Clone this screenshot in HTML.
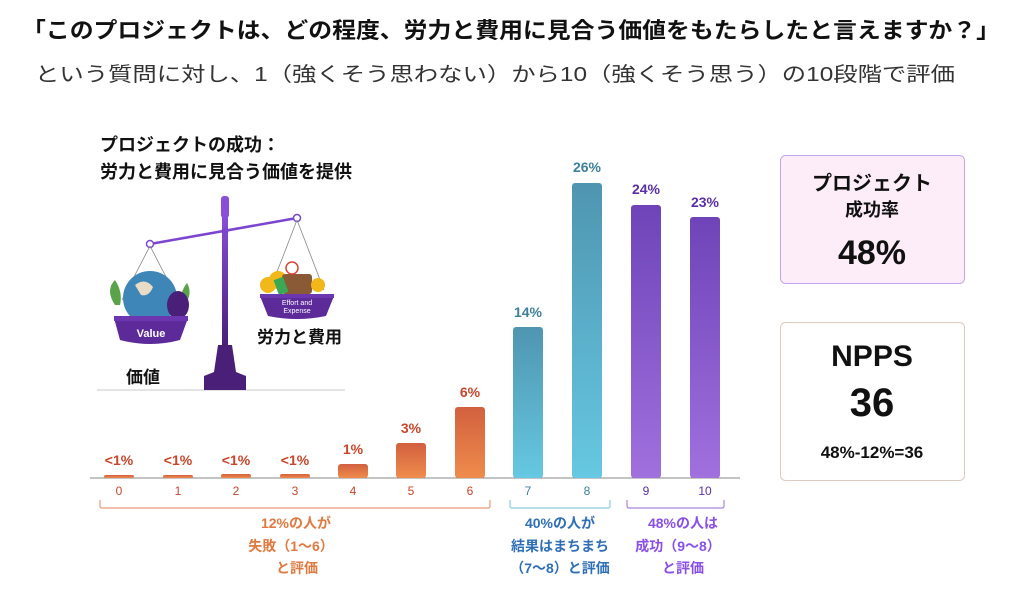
<!DOCTYPE html>
<html><head><meta charset="utf-8"><style>
body{margin:0;background:#fff;width:1024px;height:590px;overflow:hidden;font-family:"Liberation Sans","Noto Sans CJK JP",sans-serif}
svg{display:block}
text{font-family:"Liberation Sans","Noto Sans CJK JP",sans-serif}
</style></head><body>
<svg width="1024" height="590" viewBox="0 0 1024 590">
<defs>
<linearGradient id="go" x1="0" y1="0" x2="0" y2="1"><stop offset="0" stop-color="#d2603f"/><stop offset="1" stop-color="#ef8c4c"/></linearGradient>
<linearGradient id="gb" x1="0" y1="0" x2="0" y2="1"><stop offset="0" stop-color="#4f95b0"/><stop offset="1" stop-color="#66c8e2"/></linearGradient>
<linearGradient id="gp" x1="0" y1="0" x2="0" y2="1"><stop offset="0" stop-color="#6e44b8"/><stop offset="1" stop-color="#a070de"/></linearGradient>
<linearGradient id="gpole" x1="0" y1="0" x2="0" y2="1"><stop offset="0" stop-color="#8a4fd8"/><stop offset="1" stop-color="#4a1f78"/></linearGradient>
</defs>
<text x="22" y="38" font-size="22" font-weight="bold" fill="#111" textLength="978" lengthAdjust="spacingAndGlyphs">「このプロジェクトは、どの程度、労力と費用に見合う価値をもたらしたと言えますか？」</text>
<text x="35" y="81" font-size="20" fill="#333" textLength="920" lengthAdjust="spacingAndGlyphs">という質問に対し、1（強くそう思わない）から10（強くそう思う）の10段階で評価</text>

<text x="100" y="151" font-size="18" font-weight="bold" fill="#111">プロジェクトの成功：</text>
<text x="100" y="178" font-size="18" font-weight="bold" fill="#111">労力と費用に見合う価値を提供</text>

<!-- scale illustration -->
<line x1="97" y1="390" x2="345" y2="390" stroke="#e4e4e4" stroke-width="2"/>
<rect x="221" y="196" width="8" height="22" rx="3" fill="#8a4fd8"/>
<rect x="222" y="215" width="6" height="130" fill="url(#gpole)"/>
<path d="M218 345 L232 345 L236 372 L246 376 L246 390 L204 390 L204 376 L214 372 Z" fill="#4a1f78"/>
<line x1="150" y1="244" x2="297" y2="218" stroke="#7b45d0" stroke-width="2.5"/>
<circle cx="150" cy="244" r="3.5" fill="#fff" stroke="#7b45d0" stroke-width="1.5"/>
<circle cx="297" cy="218" r="3.5" fill="#fff" stroke="#7b45d0" stroke-width="1.5"/>
<circle cx="225" cy="231" r="3.5" fill="#7b45d0"/>
<line x1="150" y1="246" x2="122" y2="300" stroke="#888" stroke-width="0.8"/>
<line x1="150" y1="246" x2="178" y2="300" stroke="#888" stroke-width="0.8"/>
<line x1="297" y1="220" x2="270" y2="290" stroke="#888" stroke-width="0.8"/>
<line x1="297" y1="220" x2="324" y2="290" stroke="#888" stroke-width="0.8"/>
<circle cx="150" cy="298" r="27" fill="#3f86b8"/>
<path d="M135 285 q10 -8 18 2 q-4 10 -12 8 z" fill="#e8dcc6"/>
<path d="M115 305 q-10 -15 0 -25 q8 12 5 25z" fill="#5aa34a"/>
<path d="M185 305 q8 -12 2 -22 q-8 10 -5 22z" fill="#5aa34a"/>
<ellipse cx="178" cy="305" rx="11" ry="14" fill="#4a1f78"/>
<path d="M114 318 L188 318 L180 340 Q150 348 120 340 Z" fill="#5d2a99"/>
<rect x="114" y="316" width="74" height="5" fill="#6b36b0"/>
<text x="151" y="337" text-anchor="middle" font-size="11" font-weight="bold" fill="#fff">Value</text>
<circle cx="278" cy="280" r="9" fill="#f2b81a"/><circle cx="268" cy="285" r="8" fill="#f2b81a"/>
<rect x="282" y="274" width="30" height="20" rx="3" fill="#8a5a36"/>
<circle cx="292" cy="268" r="6" fill="#fff" stroke="#d43" stroke-width="1.5"/>
<rect x="276" y="278" width="10" height="16" fill="#3aa855" transform="rotate(-20 281 286)"/>
<circle cx="318" cy="285" r="7" fill="#f2b81a"/>
<path d="M260 296 L334 296 L326 316 Q297 322 268 316 Z" fill="#5d2a99"/>
<rect x="260" y="294" width="74" height="4" fill="#6b36b0"/>
<text x="297" y="305" text-anchor="middle" font-size="7" fill="#fff">Effort and</text>
<text x="297" y="313" text-anchor="middle" font-size="7" fill="#fff">Expense</text>
<text x="257" y="343" font-size="17" font-weight="bold" fill="#111">労力と費用</text>
<text x="126" y="383" font-size="17" font-weight="bold" fill="#111">価値</text>

<!-- axis -->
<line x1="90" y1="478" x2="740" y2="478" stroke="#888" stroke-width="1"/>
<!-- bars -->
<g font-weight="bold" font-size="14" text-anchor="middle">
<rect x="104" y="475" width="30" height="3" rx="2" fill="url(#go)"/><text x="119" y="465" fill="#c9452a">&lt;1%</text>
<rect x="163" y="475" width="30" height="3" rx="2" fill="url(#go)"/><text x="178" y="465" fill="#c9452a">&lt;1%</text>
<rect x="221" y="474" width="30" height="4" rx="2" fill="url(#go)"/><text x="236" y="465" fill="#c9452a">&lt;1%</text>
<rect x="280" y="474" width="30" height="4" rx="2" fill="url(#go)"/><text x="295" y="465" fill="#c9452a">&lt;1%</text>
<rect x="338" y="464" width="30" height="14" rx="3" fill="url(#go)"/><text x="353" y="454" fill="#c9452a">1%</text>
<rect x="396" y="443" width="30" height="35" rx="3" fill="url(#go)"/><text x="411" y="433" fill="#c9452a">3%</text>
<rect x="455" y="407" width="30" height="71" rx="3" fill="url(#go)"/><text x="470" y="397" fill="#c9452a">6%</text>
<rect x="513" y="327" width="30" height="151" rx="3" fill="url(#gb)"/><text x="528" y="317" fill="#3d7f9c">14%</text>
<rect x="572" y="183" width="30" height="295" rx="3" fill="url(#gb)"/><text x="587" y="172" fill="#3d7f9c">26%</text>
<rect x="631" y="205" width="30" height="273" rx="3" fill="url(#gp)"/><text x="646" y="194" fill="#5a2fa8">24%</text>
<rect x="690" y="217" width="30" height="261" rx="3" fill="url(#gp)"/><text x="705" y="207" fill="#5a2fa8">23%</text>
</g>
<g font-size="12" text-anchor="middle">
<text x="119" y="495" fill="#c9452a">0</text><text x="178" y="495" fill="#c9452a">1</text><text x="236" y="495" fill="#c9452a">2</text><text x="295" y="495" fill="#c9452a">3</text><text x="353" y="495" fill="#c9452a">4</text><text x="411" y="495" fill="#c9452a">5</text><text x="470" y="495" fill="#c9452a">6</text>
<text x="528" y="495" fill="#3d7f9c">7</text><text x="587" y="495" fill="#3d7f9c">8</text>
<text x="646" y="495" fill="#5a2fa8">9</text><text x="705" y="495" fill="#5a2fa8">10</text>
</g>
<path d="M100 500 V506 Q100 508 102 508 H488 Q490 508 490 506 V500" fill="none" stroke="#e89a78" stroke-width="1.2"/>
<path d="M510 500 V506 Q510 508 512 508 H608 Q610 508 610 506 V500" fill="none" stroke="#8ccde0" stroke-width="1.2"/>
<path d="M627 500 V506 Q627 508 629 508 H722 Q724 508 724 506 V500" fill="none" stroke="#a884e0" stroke-width="1.2"/>
<g font-size="14" font-weight="bold" text-anchor="middle">
<text x="296" y="528" fill="#e07a40">12%の人が</text>
<text x="291" y="551" fill="#e07a40">失敗（1～6）</text>
<text x="297" y="573" fill="#e07a40">と評価</text>
<text x="560" y="528" fill="#2f6fb8">40%の人が</text>
<text x="560" y="551" fill="#2f6fb8">結果はまちまち</text>
<text x="560" y="573" fill="#2f6fb8">（7～8）と評価</text>
<text x="683" y="528" fill="#8a4fe8">48%の人は</text>
<text x="678" y="551" fill="#8a4fe8">成功（9～8）</text>
<text x="683" y="573" fill="#8a4fe8">と評価</text>
</g>

<!-- right boxes -->
<rect x="780.5" y="155.5" width="184" height="128" rx="5" fill="#fcedf8" stroke="#c4a6f0"/>
<text x="872" y="190" text-anchor="middle" font-size="20" font-weight="bold" fill="#111">プロジェクト</text>
<text x="872" y="216" text-anchor="middle" font-size="18" font-weight="bold" fill="#111">成功率</text>
<text x="872" y="264" text-anchor="middle" font-size="34" font-weight="bold" fill="#111">48%</text>
<rect x="780.5" y="322.5" width="184" height="158" rx="5" fill="#fff" stroke="#dccbbf"/>
<text x="872" y="366" text-anchor="middle" font-size="30" font-weight="bold" fill="#111">NPPS</text>
<text x="872" y="416" text-anchor="middle" font-size="40" font-weight="bold" fill="#111">36</text>
<text x="872" y="458" text-anchor="middle" font-size="17" font-weight="bold" fill="#111">48%-12%=36</text>
</svg>
</body></html>
